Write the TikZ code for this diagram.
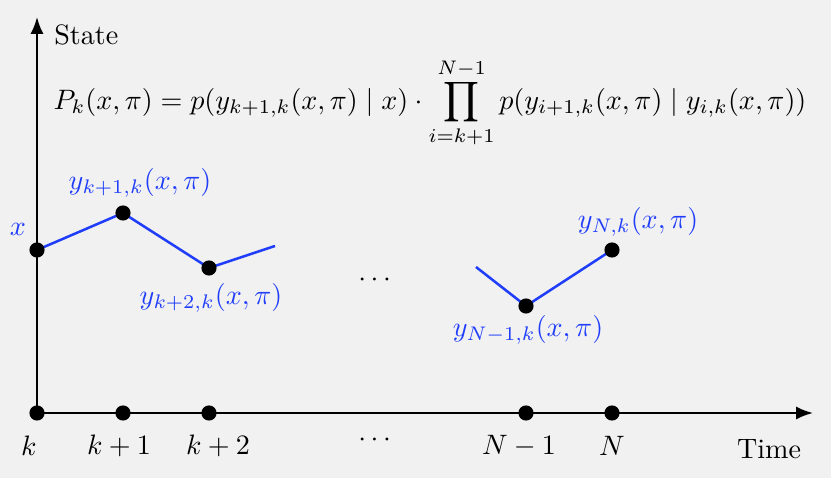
\documentclass[tikz,border=0pt]{standalone}
\usepackage{amsmath}
\usetikzlibrary{arrows.meta}
\definecolor{bg}{RGB}{241,241,241}
\definecolor{pathblue}{RGB}{32,62,250}
\begin{document}
\begin{tikzpicture}[x=0.356pt,y=-0.356pt,
  dot/.style={circle,fill=black,inner sep=0pt,minimum size=5.4pt},
  bluelbl/.style={text=pathblue,inner sep=1pt},
  lbl/.style={inner sep=1pt},
  axis/.style={line width=0.7pt,-{Latex[length=6pt,width=4.6pt]}},
  trail/.style={pathblue,line width=0.9pt}]
\fill[bg] (0,0) rectangle (831,478);
\useasboundingbox (0,0) rectangle (831,478);
% axes
\coordinate (O) at (37,413);
\coordinate (ytip) at (37,17);
\coordinate (xtip) at (813,413);
\draw[axis] (O) -- (ytip);
\draw[axis] (O) -- (xtip);
\node[lbl,anchor=west] (state) at (51,35) {State};
\node[lbl] (time) at (769,449) {Time};
% formula
\node[lbl] (formula) at (430,103) {$\displaystyle P_k(x,\pi) = p(y_{k+1,k}(x,\pi)\mid x)\cdot\prod_{i=k+1}^{N-1} p(y_{i+1,k}(x,\pi)\mid y_{i,k}(x,\pi))$};
% time dots
\node[dot] (t0) at (37,413) {};
\node[dot] (t1) at (123,413) {};
\node[dot] (t2) at (209,413) {};
\node[dot] (t3) at (526,413) {};
\node[dot] (t4) at (612,413) {};
\node[lbl] (l0) at (29,446) {$k$};
\node[lbl] (l1) at (119,446) {$k+1$};
\node[lbl] (l2) at (218,446) {$k+2$};
\node[lbl] (ldots) at (377,440) {$\cdots$};
\node[lbl] (l3) at (519,446) {$N-1$};
\node[lbl] (l4) at (612,446) {$N$};
% state trajectory
\coordinate (p0) at (37,250);
\coordinate (p1) at (123,213);
\coordinate (p2) at (209,268);
\coordinate (pe) at (275,246);
\coordinate (qs) at (476,267);
\coordinate (q1) at (526,306);
\coordinate (q2) at (612,250);
\draw[trail] (p0) -- (p1) -- (p2) -- (pe);
\draw[trail] (qs) -- (q1) -- (q2);
\node[dot] (d0) at (p0) {};
\node[dot] (d1) at (p1) {};
\node[dot] (d2) at (p2) {};
\node[dot] (d3) at (q1) {};
\node[dot] (d4) at (q2) {};
\node[bluelbl] (lx) at (18,229) {$x$};
\node[bluelbl] (ly1) at (140,183) {$y_{k+1,k}(x,\pi)$};
\node[bluelbl] (ly2) at (211,298) {$y_{k+2,k}(x,\pi)$};
\node[bluelbl] (ly3) at (528,330) {$y_{N-1,k}(x,\pi)$};
\node[bluelbl] (ly4) at (638,222) {$y_{N,k}(x,\pi)$};
\node[lbl] (mdots) at (377,280) {$\cdots$};
\end{tikzpicture}
\end{document}
